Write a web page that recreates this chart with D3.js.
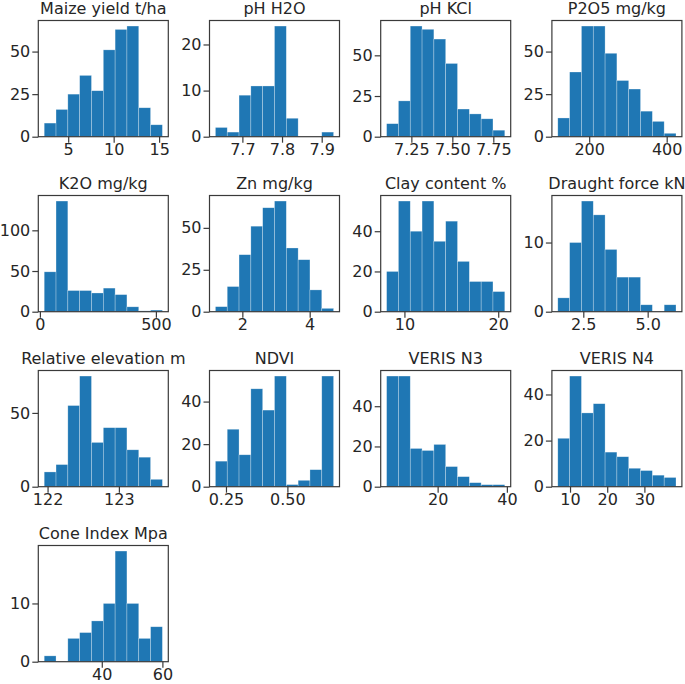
<!DOCTYPE html>
<html>
<head>
<meta charset="utf-8">
<script src="https://cdn.jsdelivr.net/npm/d3@7"></script>
<style>
  html, body { margin: 0; padding: 0; background: #fff; }
  svg { display: block; }
  text { font-family: "DejaVu Sans", sans-serif; fill: #262626; }
</style>
</head>
<body>
<div id="chart"></div>
<script>
// ---------------- data ----------------
const titles = [
  "Maize yield t/ha", "pH H2O", "pH KCl", "P2O5 mg/kg",
  "K2O mg/kg", "Zn mg/kg", "Clay content %", "Draught force kN",
  "Relative elevation m", "NDVI", "VERIS N3", "VERIS N4",
  "Cone Index Mpa"
];
// lower and upper edge of the 10 equal bins of every histogram
const binMin = [2.36, 7.632, 7.099, 119, 18.6, 1.2, 8.1, 1.51, 121.953, 0.207, 5.26, 6.71, 21];
const binMax = [15.36, 7.93, 7.82, 424, 528, 4.71, 20.7, 6.1, 123.61, 0.688, 39.4, 38.5, 60];
const counts = [
  [8, 16, 25, 36, 27, 51, 63, 65, 17, 7],
  [2, 1, 9, 11, 11, 24, 4, 0, 0, 1],
  [8, 22, 68, 66, 60, 45, 17, 14, 11, 4],
  [11, 38, 65, 65, 49, 33, 28, 15, 9, 2],
  [49, 136, 26, 26, 23, 29, 21, 6, 1, 2],
  [3, 15, 34, 51, 62, 66, 38, 31, 13, 2],
  [20, 55, 40, 55, 35, 45, 25, 15, 15, 10],
  [2, 10, 16, 14, 9, 5, 5, 1, 0, 1],
  [10, 15, 55, 75, 30, 40, 40, 25, 20, 5],
  [12, 27, 15, 46, 36, 52, 1, 3, 8, 52],
  [55, 55, 19, 18, 21, 10, 5, 2, 1, 1],
  [21, 48, 32, 36, 15, 13, 8, 7, 5, 4],
  [1, 0, 4, 5, 7, 10, 19, 10, 4, 6]
];
const xTickValues = [
  [5, 10, 15], [7.7, 7.8, 7.9], [7.25, 7.5, 7.75], [200, 400],
  [0, 500], [2, 4], [10, 20], [2.5, 5.0],
  [122, 123], [0.25, 0.5], [20, 40], [10, 20, 30],
  [40, 60]
];
const xTickLabels = [
  ["5", "10", "15"], ["7.7", "7.8", "7.9"], ["7.25", "7.50", "7.75"], ["200", "400"],
  ["0", "500"], ["2", "4"], ["10", "20"], ["2.5", "5.0"],
  ["122", "123"], ["0.25", "0.50"], ["20", "40"], ["10", "20", "30"],
  ["40", "60"]
];
const yTickValues = [
  [0, 25, 50], [0, 10, 20], [0, 25, 50], [0, 25, 50],
  [0, 50, 100], [0, 25, 50], [0, 20, 40], [0, 10],
  [0, 50], [0, 20, 40], [0, 20, 40], [0, 20, 40],
  [0, 10]
];

// ---------------- layout ----------------
const W = 685, H = 684;
const panelW = 130, panelH = 116.2;
const left0 = 38.3, colStep = 171.2;
const top0 = 20.5, rowStep = 175;
const barColor = "#1f77b4";
const lineColor = "#3a3a3a";
const fontSize = 16;

const svg = d3.select("#chart").append("svg")
  .attr("width", W).attr("height", H)
  .attr("viewBox", `0 0 ${W} ${H}`);

titles.forEach((title, i) => {
  const col = i % 4, row = Math.floor(i / 4);
  const left = left0 + col * colStep;
  const top = top0 + row * rowStep;
  const lo = binMin[i], hi = binMax[i];
  const span = hi - lo;
  const x = d3.scaleLinear()
    .domain([lo - 0.05 * span, hi + 0.05 * span])
    .range([left, left + panelW]);
  const ymax = d3.max(counts[i]);
  const y = d3.scaleLinear()
    .domain([0, ymax * 1.05])
    .range([top + panelH, top]);

  const g = svg.append("g").attr("class", "panel");
  const edges = d3.range(11).map(k => lo + k * span / 10);
  const bins = counts[i].map((c, k) => ({ x0: edges[k], x1: edges[k + 1], c }));

  g.selectAll("rect.bar")
    .data(bins.filter(b => b.c > 0))
    .join("rect")
    .attr("class", "bar")
    .attr("x", b => x(b.x0))
    .attr("width", b => x(b.x1) - x(b.x0))
    .attr("y", b => y(b.c))
    .attr("height", b => y(0) - y(b.c))
    .attr("fill", barColor)
    .attr("stroke", "#ffffff")
    .attr("stroke-opacity", 0.45)
    .attr("stroke-width", 0.6);

  // frame
  g.append("rect")
    .attr("x", left).attr("y", top)
    .attr("width", panelW).attr("height", panelH)
    .attr("fill", "none")
    .attr("stroke", lineColor)
    .attr("stroke-width", 1.2);

  // x axis
  const labs = xTickLabels[i];
  const xa = g.append("g")
    .attr("transform", `translate(0,${top + panelH})`)
    .call(d3.axisBottom(x)
      .tickValues(xTickValues[i])
      .tickFormat((d, j) => labs[j])
      .tickSize(6)
      .tickPadding(1));
  xa.select(".domain").remove();
  xa.selectAll(".tick line").attr("stroke", lineColor).attr("stroke-width", 1.2);
  xa.selectAll(".tick text")
    .attr("font-size", fontSize)
    .attr("font-family", "DejaVu Sans")
    .attr("fill", "#262626");

  // y axis
  const ya = g.append("g")
    .attr("transform", `translate(${left},0)`)
    .call(d3.axisLeft(y)
      .tickValues(yTickValues[i])
      .tickFormat(d3.format("d"))
      .tickSize(6)
      .tickPadding(2));
  ya.select(".domain").remove();
  ya.selectAll(".tick line").attr("stroke", lineColor).attr("stroke-width", 1.2);
  ya.selectAll(".tick text")
    .attr("font-size", fontSize)
    .attr("font-family", "DejaVu Sans")
    .attr("fill", "#262626");

  // title
  g.append("text")
    .attr("x", left + panelW / 2)
    .attr("y", top - 7)
    .attr("text-anchor", "middle")
    .attr("font-size", fontSize)
    .text(title);
});
</script>
</body>
</html>
